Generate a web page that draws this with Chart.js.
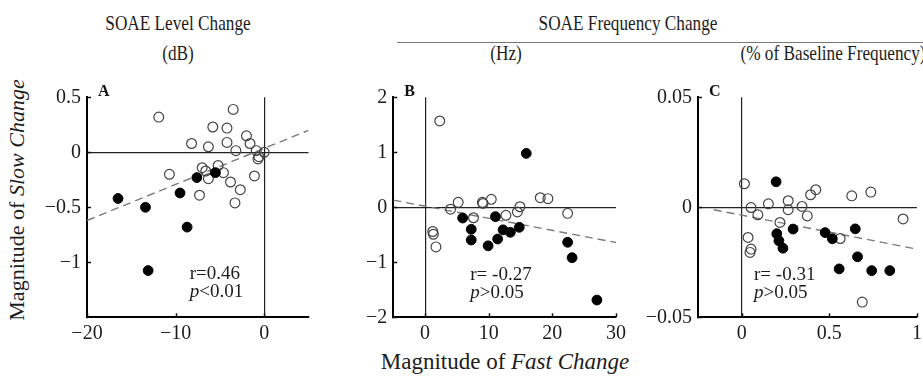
<!DOCTYPE html>
<html>
<head>
<meta charset="utf-8">
<script src="https://cdn.jsdelivr.net/npm/chart.js@4.4.1/dist/chart.umd.min.js"></script>
<style>
  html, body { margin: 0; padding: 0; background: #fff; }
  #fig { position: relative; width: 923px; height: 376px; overflow: hidden;
         font-family: 'Liberation Serif', 'Times New Roman', serif; color: #1c1c1c; }
  #fig canvas { position: absolute; }
  .t { position: absolute; white-space: nowrap; line-height: 1; transform: translate(-50%, -50%); }
  .hd { font-size: 21px; transform: translate(-50%, -50%) scaleX(0.82); }
  .rule { position: absolute; left: 397px; top: 42px; width: 526px; border-top: 1px solid #777; }
</style>
</head>
<body>
<div id="fig">
  <div class="t hd" style="left:178px; top:23px;">SOAE Level Change</div>
  <div class="t hd" style="left:178px; top:53px;">(dB)</div>
  <div class="t hd" style="left:628px; top:23px;">SOAE Frequency Change</div>
  <div class="rule"></div>
  <div class="t hd" style="left:506px; top:53px;">(Hz)</div>
  <div class="t hd" style="left:833px; top:53px;">(% of Baseline Frequency)</div>
  <div class="t" style="left:17px; top:200px; font-size:22px; transform:translate(-50%,-50%) rotate(-90deg);">Magnitude of <i>Slow Change</i></div>
  <div class="t" style="left:505px; top:361px; font-size:23px;">Magnitude of <i>Fast Change</i></div>

  <canvas id="panelA" width="320" height="270" style="left:0px; top:80px;"></canvas>
  <canvas id="panelB" width="310" height="270" style="left:320px; top:80px;"></canvas>
  <canvas id="panelC" width="293" height="270" style="left:630px; top:80px;"></canvas>
</div>

<script>
// ---- Panel A: SOAE level change (dB), [fast, slow] pairs ----
const levelOpen = [
  [-11.9, 0.32], [-3.5, 0.39], [-5.8, 0.23], [-4.2, 0.22], [-8.2, 0.08],
  [-6.3, 0.05], [-4.2, 0.09], [-3.2, 0.015], [-2.0, 0.15], [-1.6, 0.08],
  [-0.9, 0.015], [0.0, 0.0], [-0.6, -0.04], [-0.7, -0.06], [-10.7, -0.20],
  [-7.0, -0.14], [-6.6, -0.17], [-6.3, -0.24], [-5.2, -0.12], [-4.6, -0.185],
  [-3.8, -0.27], [-2.7, -0.34], [-3.3, -0.46], [-7.3, -0.39], [-1.1, -0.215]
];
const levelFilled = [
  [-16.5, -0.42], [-13.4, -0.50], [-9.5, -0.37], [-7.6, -0.23],
  [-5.5, -0.185], [-8.7, -0.68], [-13.1, -1.075]
];
const levelFit = [[-20, -0.62], [5, 0.20]];
const levelTicksX = [-20, -10, 0];
const levelTicksY = [0.5, 0, -0.5, -1];

// ---- Panel B: SOAE frequency change (Hz) ----
const hzOpen = [
  [2.3, 1.57], [1.2, -0.44], [1.3, -0.49], [1.7, -0.72], [4.0, -0.035],
  [5.2, 0.09], [7.6, -0.19], [9.0, 0.09], [9.1, 0.07], [10.4, 0.145],
  [12.7, -0.145], [14.5, -0.085], [14.9, 0.01], [18.1, 0.175], [19.3, 0.157],
  [22.4, -0.11]
];
const hzFilled = [
  [15.9, 0.98], [5.9, -0.195], [7.25, -0.40], [7.25, -0.595], [9.9, -0.70],
  [11.05, -0.17], [11.4, -0.577], [12.25, -0.41], [13.4, -0.455], [14.8, -0.364],
  [22.4, -0.636], [23.1, -0.916], [27.0, -1.686]
];
const hzFit = [[-5, 0.13], [30, -0.64]];
const hzTicksX = [0, 10, 20, 30];
const hzTicksY = [2, 1, 0, -1, -2];

// ---- Panel C: SOAE frequency change (% of baseline) ----
const pctOpen = [
  [0.015, 0.0107], [0.053, -0.0001], [0.092, -0.0034], [0.152, 0.0016], [0.265, 0.003],
  [0.265, -0.0011], [0.344, 0.0004], [0.374, -0.0039], [0.393, 0.0057], [0.423, 0.008],
  [0.218, -0.0069], [0.036, -0.0137], [0.053, -0.019], [0.047, -0.0205], [0.562, -0.0142],
  [0.628, 0.0052], [0.737, 0.0069], [0.921, -0.0053], [0.688, -0.0431]
];
const pctFilled = [
  [0.196, 0.0116], [0.293, -0.0099], [0.20, -0.012], [0.212, -0.0152], [0.235, -0.0186],
  [0.476, -0.0115], [0.517, -0.0143], [0.648, -0.0098], [0.661, -0.0225], [0.556, -0.0280],
  [0.742, -0.0288], [0.845, -0.0288]
];
const pctFit = [[-0.16, -0.0011], [1.0, -0.019]];
const pctTicksX = [0, 0.5, 1];
const pctTicksY = [0.05, 0, -0.05];

const SERIF = "'Liberation Serif', 'Times New Roman', serif";
const toXY = arr => arr.map(([x, y]) => ({ x, y }));
const minusSign = v => String(v).replace('-', '\u2212');

// Inward tick marks, panel letter and correlation text
const panelDecor = {
  id: 'panelDecor',
  afterDatasetsDraw(chart, args, o) {
    const { ctx, chartArea: a, scales: { x, y } } = chart;
    ctx.save();
    ctx.strokeStyle = '#111';
    ctx.lineWidth = 1.5;
    y.ticks.forEach(t => {
      const py = Math.round(y.getPixelForValue(t.value)) + 0.5;
      ctx.beginPath(); ctx.moveTo(a.left, py); ctx.lineTo(a.left + 4, py); ctx.stroke();
    });
    x.ticks.forEach(t => {
      const px = Math.round(x.getPixelForValue(t.value)) + 0.5;
      ctx.beginPath(); ctx.moveTo(px, a.bottom); ctx.lineTo(px, a.bottom - 4); ctx.stroke();
    });

    ctx.fillStyle = '#111';
    ctx.textBaseline = 'alphabetic';
    ctx.textAlign = 'left';
    ctx.font = 'bold 16px ' + SERIF;
    ctx.fillText(o.letter, a.left + 11, a.top - 1);

    const sx = x.getPixelForValue(o.statX);
    const sy = y.getPixelForValue(o.statY);
    ctx.fillStyle = '#1c1c1c';
    ctx.font = '19px ' + SERIF;
    ctx.fillText(o.rText, sx, sy);
    ctx.font = 'italic 19px ' + SERIF;
    ctx.fillText('p', sx, sy + 18);
    const w = ctx.measureText('p').width;
    ctx.font = '19px ' + SERIF;
    ctx.fillText(o.pText, sx + w, sy + 18);
    ctx.restore();
  }
};

function makePanel(id, cfg) {
  const fixTicks = list => scale => { scale.ticks = list.map(v => ({ value: v })); };
  const zeroGrid = c => (c.tick && c.tick.value === 0) ? '#222' : 'rgba(0,0,0,0)';
  new Chart(document.getElementById(id), {
    type: 'scatter',
    data: {
      datasets: [
        {
          data: toXY(cfg.filled), pointRadius: 4.9, pointHoverRadius: 4.9,
          backgroundColor: '#000', borderColor: '#000', borderWidth: 1, order: 1
        },
        {
          data: toXY(cfg.open), pointRadius: 4.9, pointHoverRadius: 4.9,
          backgroundColor: 'rgba(255,255,255,0)', borderColor: '#444', borderWidth: 1.2, order: 2
        },
        {
          data: toXY(cfg.fit), showLine: true, pointRadius: 0, borderColor: '#7a7a7a',
          borderWidth: 1.4, borderDash: [8, 5], order: 3
        }
      ]
    },
    options: {
      responsive: false,
      devicePixelRatio: 1,
      animation: false,
      events: [],
      layout: { padding: { left: 0, right: cfg.padRight, top: cfg.padTop, bottom: 0 } },
      plugins: {
        legend: { display: false },
        tooltip: { enabled: false },
        panelDecor: cfg.decor
      },
      scales: {
        x: {
          type: 'linear', min: cfg.xMin, max: cfg.xMax,
          afterBuildTicks: fixTicks(cfg.ticksX),
          afterFit: s => { s.height = cfg.xHeight; s.paddingLeft = 0; s.paddingRight = 0; },
          ticks: { callback: minusSign, color: '#1c1c1c', padding: 4, maxRotation: 0,
                   font: { family: SERIF, size: 20 } },
          grid: { color: zeroGrid, lineWidth: 1.2, drawTicks: false },
          border: { display: true, color: '#000', width: 2 }
        },
        y: {
          type: 'linear', min: cfg.yMin, max: cfg.yMax,
          afterBuildTicks: fixTicks(cfg.ticksY),
          afterFit: s => { s.width = cfg.yWidth; s.paddingTop = 0; s.paddingBottom = 0; },
          ticks: { callback: minusSign, color: '#1c1c1c', padding: 6,
                   font: { family: SERIF, size: 20 } },
          grid: { color: zeroGrid, lineWidth: 1.2, drawTicks: false },
          border: { display: true, color: '#000', width: 2 }
        }
      }
    },
    plugins: [panelDecor]
  });
}

makePanel('panelA', {
  open: levelOpen, filled: levelFilled, fit: levelFit,
  ticksX: levelTicksX, ticksY: levelTicksY,
  xMin: -20, xMax: 5, yMin: -1.5, yMax: 0.5,
  yWidth: 87, xHeight: 32.7, padRight: 11.5, padTop: 17.3,
  decor: { letter: 'A', statX: -8.4, statY: -1.15, rText: 'r=0.46', pText: '<0.01' }
});

makePanel('panelB', {
  open: hzOpen, filled: hzFilled, fit: hzFit,
  ticksX: hzTicksX, ticksY: hzTicksY,
  xMin: -5, xMax: 30, yMin: -2, yMax: 2,
  yWidth: 73.3, xHeight: 32.7, padRight: 14, padTop: 17.3,
  decor: { letter: 'B', statX: 7.1, statY: -1.32, rText: 'r= -0.27', pText: '>0.05' }
});

makePanel('panelC', {
  open: pctOpen, filled: pctFilled, fit: pctFit,
  ticksX: pctTicksX, ticksY: pctTicksY,
  xMin: -0.25, xMax: 1, yMin: -0.05, yMax: 0.05,
  yWidth: 68, xHeight: 32.7, padRight: 3, padTop: 17.3,
  decor: { letter: 'C', statX: 0.07, statY: -0.033, rText: 'r= -0.31', pText: '>0.05' }
});
</script>
</body>
</html>
